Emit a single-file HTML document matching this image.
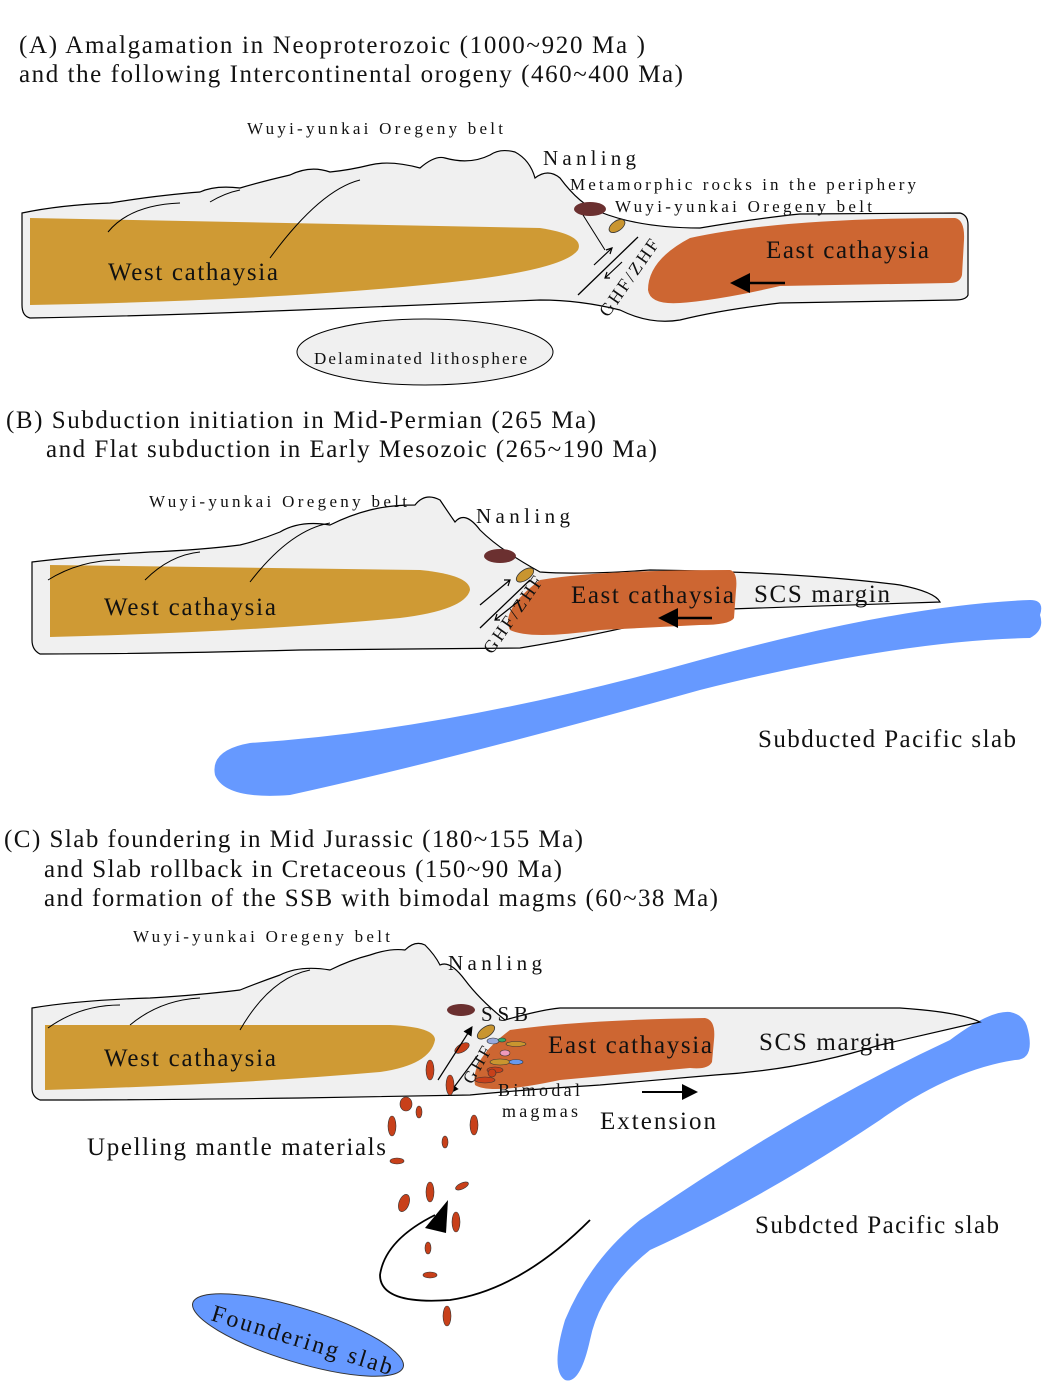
<!DOCTYPE html>
<html><head><meta charset="utf-8"><style>
body{margin:0;background:#fff}
svg{display:block}
text{font-family:"Liberation Serif",serif;fill:#111}
</style></head><body>
<svg width="1043" height="1387" viewBox="0 0 1043 1387">
<defs><marker id="ah" markerWidth="8" markerHeight="8" refX="4" refY="4" orient="auto"><path d="M0,0L8,4L0,8z" fill="#000"/></marker></defs>
<g lengthAdjust="spacing">
<text x="19" y="53" font-size="25" textLength="626">(A) Amalgamation in Neoproterozoic  (1000~920 Ma )</text>
<text x="19" y="82" font-size="25" textLength="664">and the following Intercontinental orogeny (460~400 Ma)</text>
<text x="6" y="428" font-size="25" textLength="590">(B) Subduction initiation in Mid-Permian (265 Ma)</text>
<text x="46" y="457" font-size="25" textLength="611">and Flat subduction in Early Mesozoic (265~190 Ma)</text>
<text x="4" y="847" font-size="25" textLength="579">(C) Slab foundering in Mid Jurassic (180~155 Ma)</text>
<text x="44" y="877" font-size="25" textLength="518">and Slab rollback in Cretaceous (150~90 Ma)</text>
<text x="44" y="906" font-size="25" textLength="674">and formation of the SSB with bimodal magms (60~38 Ma)</text>
</g>

<!-- PANEL A -->
<path d="M22,213 Q60,205 110,203 Q160,195 200,192 Q215,185 240,188 Q260,182 290,175 Q310,165 330,172 Q350,170 370,165 Q390,160 420,168 Q435,155 445,158 Q470,165 490,155 Q500,148 515,152 Q530,160 535,178 Q548,168 560,178 Q580,205 600,212 Q640,228 700,228 Q760,218 800,214 L960,213 Q968,215 968,225 L968,295 Q966,300 955,300 L780,303 Q720,310 680,320 Q650,325 620,310 Q580,300 540,300 L300,310 Q150,316 30,318 Q22,316 22,305 Z" fill="#f0f0f0" stroke="#000" stroke-width="1.2"/>
<path d="M30,218 L540,228 Q585,235 578,250 Q565,268 470,280 Q300,300 30,305 Z" fill="#cf9a34"/>
<path d="M690,238 Q780,218 955,218 Q965,220 964,240 L962,275 Q960,283 950,283 L780,286 Q720,300 680,303 Q650,305 648,290 Q648,260 690,238 Z" fill="#cd6632"/>
<path d="M108,232 Q130,205 180,203 M210,202 Q225,193 240,190 M270,258 Q320,190 360,180" fill="none" stroke="#000" stroke-width="1"/>
<ellipse cx="590" cy="209" rx="16" ry="7" fill="#6b3030"/>
<ellipse cx="617" cy="226" rx="9" ry="5" transform="rotate(-35 617 226)" fill="#c9952f" stroke="#333" stroke-width="0.8"/>
<line x1="583" y1="215" x2="605" y2="250" stroke="#000"/>
<line x1="578" y1="295" x2="638" y2="237" stroke="#000" stroke-width="1.3"/>
<path d="M594,265 L612,248 M606,250 L612,248 L610,254 M622,262 L605,278 M610,278 L605,278 L607,272" fill="none" stroke="#000" stroke-width="1.2"/>
<text x="0" y="0" font-size="18" transform="translate(608,318) rotate(-55)" textLength="90" lengthAdjust="spacing">GHF/ZHF</text>
<line x1="785" y1="283" x2="740" y2="283" stroke="#000" stroke-width="2.5" marker-end="url(#ah)"/>
<g lengthAdjust="spacing">
<text x="108" y="280" font-size="25" textLength="170">West cathaysia</text>
<text x="766" y="258" font-size="25" textLength="163">East cathaysia</text>
<text x="247" y="134" font-size="17" textLength="256">Wuyi-yunkai Oregeny belt</text>
<text x="543" y="165" font-size="21" textLength="93">Nanling</text>
<text x="570" y="190" font-size="17" textLength="346">Metamorphic rocks in the periphery</text>
<text x="615" y="212" font-size="17" textLength="257">Wuyi-yunkai Oregeny belt</text>
</g>
<ellipse cx="425" cy="352" rx="128" ry="33" fill="#f0f0f0" stroke="#000"/>
<text x="314" y="364" font-size="17" textLength="213" lengthAdjust="spacing">Delaminated lithosphere</text>

<!-- PANEL B -->
<path d="M1040,615 Q1045,600 1030,600 Q900,605 700,660 Q450,730 250,743 Q210,750 215,775 Q225,800 290,795 Q450,760 700,690 Q900,640 1030,638 Q1045,630 1040,615 Z" fill="#6699ff"/>
<path d="M32,562 Q80,556 150,552 Q200,550 240,545 Q260,540 280,532 Q300,520 330,525 Q350,515 370,510 Q390,505 415,505 Q425,492 440,500 Q450,515 455,522 Q465,510 480,530 Q500,550 540,572 Q580,575 650,570 Q800,572 900,585 Q935,592 940,602 L700,610 Q600,635 520,648 L300,650 Q150,654 40,654 Q32,650 32,640 Z" fill="#f0f0f0" stroke="#000" stroke-width="1.2"/>
<path d="M50,565 L420,570 Q470,575 470,590 Q465,610 400,618 Q250,632 50,637 Z" fill="#cf9a34"/>
<path d="M540,580 Q600,570 730,570 Q738,572 736,590 L734,618 Q730,625 700,625 L600,630 Q530,640 510,630 Q500,610 540,580 Z" fill="#cd6632"/>
<path d="M48,580 Q80,560 120,560 M145,580 Q170,555 200,552 M250,582 Q290,530 330,523" fill="none" stroke="#000" stroke-width="1"/>
<ellipse cx="500" cy="556" rx="16" ry="7" fill="#6b3030"/>
<ellipse cx="525" cy="575" rx="10" ry="5" transform="rotate(-35 525 575)" fill="#c9952f" stroke="#333" stroke-width="0.8"/>
<line x1="480" y1="628" x2="530" y2="580" stroke="#000" stroke-width="1.3"/>
<path d="M480,605 L510,580 M504,580 L510,580 L508,586 M520,600 L495,620 M500,620 L495,620 L497,614" fill="none" stroke="#000" stroke-width="1.2"/>
<text x="0" y="0" font-size="18" transform="translate(492,655) rotate(-55)" textLength="90" lengthAdjust="spacing">GHF/ZHF</text>
<line x1="712" y1="618" x2="668" y2="618" stroke="#000" stroke-width="2.5" marker-end="url(#ah)"/>
<g lengthAdjust="spacing">
<text x="104" y="615" font-size="25" textLength="172">West cathaysia</text>
<text x="571" y="603" font-size="25" textLength="163">East cathaysia</text>
<text x="754" y="602" font-size="25" textLength="136">SCS margin</text>
<text x="149" y="507" font-size="17" textLength="258">Wuyi-yunkai Oregeny belt</text>
<text x="476" y="523" font-size="21" textLength="94">Nanling</text>
<text x="758" y="747" font-size="25" textLength="258">Subducted Pacific slab</text>
</g>

<!-- PANEL C -->
<path d="M1028,1030 Q1035,1060 1015,1060 Q950,1070 880,1120 Q760,1200 650,1250 Q600,1290 590,1340 Q580,1385 565,1380 Q550,1370 565,1320 Q590,1260 640,1220 Q800,1110 950,1040 Q990,1010 1010,1012 Q1025,1015 1028,1030 Z" fill="#6699ff"/>
<ellipse cx="298" cy="1335" rx="110" ry="27" transform="rotate(17 298 1335)" fill="#6699ff" stroke="#333"/>
<path d="M32,1008 Q80,1000 150,998 Q200,995 240,990 Q260,982 280,975 Q300,965 330,970 Q350,960 370,955 Q390,948 405,950 Q415,940 425,945 Q435,955 440,965 Q450,960 465,980 Q480,1000 505,1020 Q540,1010 560,1008 L900,1008 Q960,1012 980,1022 L880,1045 Q800,1070 715,1075 L600,1085 Q520,1090 470,1095 L300,1098 Q150,1100 40,1100 Q32,1097 32,1088 Z" fill="#f0f0f0" stroke="#000" stroke-width="1.2"/>
<path d="M45,1025 L390,1025 Q435,1027 435,1040 Q430,1065 380,1072 Q230,1085 45,1090 Z" fill="#cf9a34"/>
<path d="M510,1030 Q580,1020 705,1018 Q716,1020 714,1040 L712,1062 Q708,1070 690,1068 L560,1080 Q490,1095 475,1085 Q470,1060 510,1030 Z" fill="#cd6632"/>
<path d="M48,1028 Q80,1005 120,1005 M130,1025 Q160,1000 200,998 M240,1030 Q270,978 310,970" fill="none" stroke="#000" stroke-width="1"/>
<ellipse cx="461" cy="1010" rx="14" ry="6" fill="#6b3030"/>
<ellipse cx="486" cy="1032" rx="10" ry="5" transform="rotate(-35 486 1032)" fill="#c9952f" stroke="#333" stroke-width="0.8"/>
<g stroke="#333" stroke-width="0.6">
<ellipse cx="493" cy="1041" rx="6" ry="3" fill="#9ad" /><ellipse cx="502" cy="1040" rx="4" ry="2" fill="#3a6"/>
<ellipse cx="505" cy="1053" rx="5" ry="3" fill="#e9b"/><ellipse cx="516" cy="1044" rx="10" ry="2.5" fill="#c9952f"/>
<ellipse cx="500" cy="1062" rx="10" ry="3" fill="#c9952f"/><ellipse cx="516" cy="1062" rx="7" ry="2.5" fill="#69e"/>
<ellipse cx="495" cy="1070" rx="8" ry="3" fill="#c8401a"/><ellipse cx="485" cy="1080" rx="10" ry="3" fill="#c8401a"/>
<ellipse cx="462" cy="1048" rx="8" ry="4" transform="rotate(-30 462 1048)" fill="#c8401a"/>
</g>
<line x1="438" y1="1080" x2="470" y2="1030" stroke="#000" stroke-width="1.2" marker-end="url(#ah)"/>
<line x1="478" y1="1055" x2="452" y2="1090" stroke="#000" stroke-width="1.2" marker-end="url(#ah)"/>
<text x="0" y="0" font-size="17" transform="translate(472,1085) rotate(-60)" textLength="40" lengthAdjust="spacing">GHF</text>
<g fill="#c8401a" stroke="#333" stroke-width="0.6">
<ellipse cx="430" cy="1070" rx="4" ry="10"/><ellipse cx="450" cy="1085" rx="4" ry="10"/>
<ellipse cx="406" cy="1104" rx="6" ry="7"/><ellipse cx="419" cy="1112" rx="3" ry="6"/>
<ellipse cx="392" cy="1126" rx="4" ry="10"/><ellipse cx="474" cy="1125" rx="4" ry="10"/>
<ellipse cx="445" cy="1142" rx="3" ry="6"/><ellipse cx="397" cy="1161" rx="7" ry="3"/>
<ellipse cx="404" cy="1203" rx="5" ry="9" transform="rotate(20 404 1203)"/><ellipse cx="430" cy="1192" rx="4" ry="10"/>
<ellipse cx="462" cy="1186" rx="7" ry="3" transform="rotate(-25 462 1186)"/><ellipse cx="456" cy="1222" rx="4" ry="10"/>
<ellipse cx="428" cy="1248" rx="3" ry="6"/><ellipse cx="430" cy="1275" rx="7" ry="3"/>
<ellipse cx="447" cy="1316" rx="4" ry="10"/><ellipse cx="492" cy="1073" rx="4" ry="4"/>
</g>
<path d="M590,1220 Q520,1290 450,1300 Q380,1305 380,1275 Q385,1240 435,1215" fill="none" stroke="#000" stroke-width="1.8"/>
<path d="M425,1228 L448,1200 L446,1233 Z" fill="#000"/>
<line x1="642" y1="1092" x2="690" y2="1092" stroke="#000" stroke-width="2" marker-end="url(#ah)"/>
<g lengthAdjust="spacing">
<text x="104" y="1066" font-size="25" textLength="172">West cathaysia</text>
<text x="548" y="1053" font-size="25" textLength="164">East cathaysia</text>
<text x="759" y="1050" font-size="25" textLength="136">SCS margin</text>
<text x="133" y="942" font-size="17" textLength="257">Wuyi-yunkai Oregeny belt</text>
<text x="448" y="970" font-size="21" textLength="94">Nanling</text>
<text x="481" y="1021" font-size="21" textLength="47">SSB</text>
<text x="498" y="1096" font-size="18" textLength="82">Bimodal</text>
<text x="502" y="1117" font-size="18" textLength="76">magmas</text>
<text x="600" y="1129" font-size="25" textLength="116">Extension</text>
<text x="87" y="1155" font-size="25" textLength="299">Upelling mantle materials</text>
<text x="755" y="1233" font-size="25" textLength="244">Subdcted Pacific slab</text>
<text x="0" y="0" font-size="24" transform="translate(210,1320) rotate(17)" textLength="188">Foundering slab</text>
</g>
</svg>
</body></html>
